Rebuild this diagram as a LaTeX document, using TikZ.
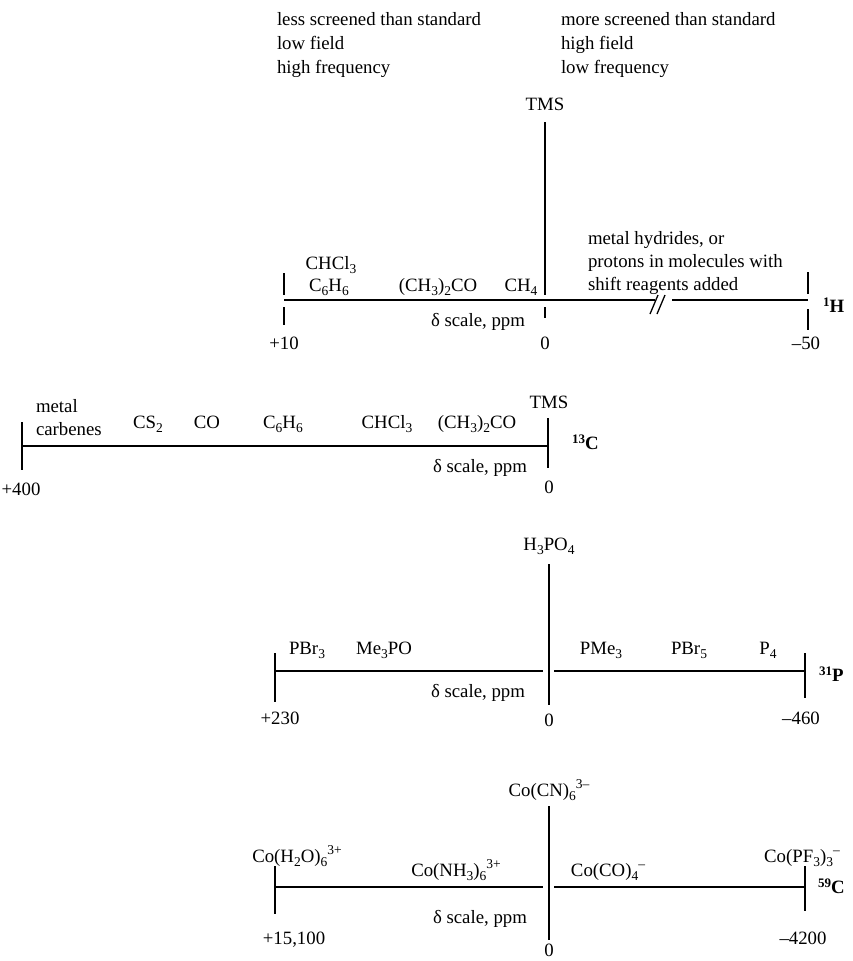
\documentclass[tikz,border=0pt]{standalone}
\usepackage{fontspec}
\setmainfont{Liberation Serif}
\newcommand\sbs[1]{\raisebox{-0.22em}{\fontsize{13.5}{13.5}\selectfont #1}}
\newcommand\sps[1]{\raisebox{0.42em}{\fontsize{13.5}{13.5}\selectfont #1}}
\newcommand\isosup[1]{\raisebox{0.3em}{\fontsize{13}{13}\selectfont\bfseries #1}}
\tikzset{
  lbl/.style={inner sep=0pt, outer sep=0pt, anchor=base, font=\fontsize{18.8}{24}\selectfont},
  lblw/.style={lbl, anchor=base west},
  iso/.style={lbl, anchor=base west, font=\fontsize{18.8}{24}\selectfont\bfseries},
  axisline/.style={line width=2.6pt},
  breakline/.style={line width=1.3pt},
}
\begin{document}
\begin{tikzpicture}[x=1pt,y=-1pt]
\useasboundingbox (0,0) rectangle (852,961);

% ---------- header ----------
\node[lblw] (ls1) at (277,25) {less screened than standard};
\node[lblw] (ls2) at (277,49) {low field};
\node[lblw] (ls3) at (277,73) {high frequency};
\node[lblw] (ms1) at (561,25) {more screened than standard};
\node[lblw] (ms2) at (561,49) {high field};
\node[lblw] (ms3) at (561,73) {low frequency};

% ---------- 1H ----------
\node[lbl] (hTMS) at (545,110) {TMS};
\node[lbl] (hCHCl3) at (331,269) {CHCl\sbs{3}};
\node[lbl] (hC6H6) at (329,291) {C\sbs{6}H\sbs{6}};
\node[lbl] (hAc) at (438,291) {(CH\sbs{3})\sbs{2}CO};
\node[lbl] (hCH4) at (521,291) {CH\sbs{4}};
\node[lblw] (hyd1) at (588,244) {metal hydrides, or};
\node[lblw] (hyd2) at (588,267) {protons in molecules with};
\node[lblw] (hyd3) at (588,290) {shift reagents added};
\node[lbl] (hdel) at (478,326) {δ scale, ppm};
\node[lbl] (hp10) at (284,349) {+10};
\node[lbl] (h0) at (545,349) {0};
\node[lbl] (hm50) at (806,349) {–50};
\node[iso] (hiso) at (823,312) {\isosup{1}H};

\coordinate (hA1) at (284,300); \coordinate (hA2) at (655,300);
\coordinate (hA3) at (672,300); \coordinate (hA4) at (808,300);
\draw[axisline] (hA1) -- (hA2);
\draw[axisline] (hA3) -- (hA4);
\coordinate (hS1a) at (650,314); \coordinate (hS1b) at (658,295);
\coordinate (hS2a) at (657,314); \coordinate (hS2b) at (665,295);
\draw[breakline] (hS1a) -- (hS1b);
\draw[breakline] (hS2a) -- (hS2b);
% ticks (interrupted at the axis)
\coordinate (hL1) at (284,273); \coordinate (hL2) at (284,295);
\coordinate (hL3) at (284,307); \coordinate (hL4) at (284,325);
\draw[axisline] (hL1) -- (hL2); \draw[axisline] (hL3) -- (hL4);
\coordinate (hT1) at (545,122); \coordinate (hT2) at (545,295);
\coordinate (hT3) at (545,307); \coordinate (hT4) at (545,318);
\draw[axisline] (hT1) -- (hT2); \draw[axisline] (hT3) -- (hT4);
\coordinate (hR1) at (808,272); \coordinate (hR2) at (808,294);
\coordinate (hR3) at (808,309); \coordinate (hR4) at (808,330);
\draw[axisline] (hR1) -- (hR2); \draw[axisline] (hR3) -- (hR4);

% ---------- 13C ----------
\node[lblw] (cmet1) at (36,412) {metal};
\node[lblw] (cmet2) at (36,435) {carbenes};
\node[lbl] (cCS2) at (148,428) {CS\sbs{2}};
\node[lbl] (cCO) at (207,428) {CO};
\node[lbl] (cC6H6) at (283,428) {C\sbs{6}H\sbs{6}};
\node[lbl] (cCHCl3) at (387,428) {CHCl\sbs{3}};
\node[lbl] (cAc) at (477,428) {(CH\sbs{3})\sbs{2}CO};
\node[lbl] (cTMS) at (549,408) {TMS};
\node[iso] (ciso) at (572,449) {\isosup{13}C};
\node[lbl] (cdel) at (480,472) {δ scale, ppm};
\node[lbl] (cp400) at (21,495) {+400};
\node[lbl] (c0) at (549,493) {0};

\coordinate (cA1) at (22,446); \coordinate (cA2) at (548,446);
\draw[axisline] (cA1) -- (cA2);
\coordinate (cL1) at (22,422); \coordinate (cL2) at (22,470);
\draw[axisline] (cL1) -- (cL2);
\coordinate (cR1) at (548,418); \coordinate (cR2) at (548,468);
\draw[axisline] (cR1) -- (cR2);

% ---------- 31P ----------
\node[lbl] (pH3PO4) at (549,550) {H\sbs{3}PO\sbs{4}};
\node[lbl] (pPBr3) at (307,654) {PBr\sbs{3}};
\node[lbl] (pMe3PO) at (384,654) {Me\sbs{3}PO};
\node[lbl] (pPMe3) at (601,654) {PMe\sbs{3}};
\node[lbl] (pPBr5) at (689,654) {PBr\sbs{5}};
\node[lbl] (pP4) at (768,654) {P\sbs{4}};
\node[lbl] (pdel) at (478,697) {δ scale, ppm};
\node[lbl] (pp230) at (280,724) {+230};
\node[lbl] (p0) at (549,726) {0};
\node[lbl] (pm460) at (801,724) {–460};
\node[iso] (piso) at (819,681) {\isosup{31}P};

\coordinate (pA1) at (275,671); \coordinate (pA2) at (543,671);
\coordinate (pA3) at (554,671); \coordinate (pA4) at (805,671);
\draw[axisline] (pA1) -- (pA2);
\draw[axisline] (pA3) -- (pA4);
\coordinate (pV1) at (549,564); \coordinate (pV2) at (549,705);
\draw[axisline] (pV1) -- (pV2);
\coordinate (pL1) at (275,653); \coordinate (pL2) at (275,702);
\draw[axisline] (pL1) -- (pL2);
\coordinate (pR1) at (805,653); \coordinate (pR2) at (805,698);
\draw[axisline] (pR1) -- (pR2);

% ---------- 59Co ----------
\node[lbl] (kCN) at (549,796) {Co(CN)\sbs{6}\sps{3–}};
\node[lbl] (kH2O) at (297,862) {Co(H\sbs{2}O)\sbs{6}\sps{3+}};
\node[lbl] (kNH3) at (456,876) {Co(NH\sbs{3})\sbs{6}\sps{3+}};
\node[lbl] (kCO4) at (608,876) {Co(CO)\sbs{4}\sps{–}};
\node[lbl] (kPF3) at (802,862) {Co(PF\sbs{3})\sbs{3}\sps{–}};
\node[lbl] (kdel) at (480,923) {δ scale, ppm};
\node[lbl] (kp) at (294,944) {+15,100};
\node[lbl] (k0) at (549,956) {0};
\node[lbl] (km) at (803,944) {–4200};
\node[iso] (kiso) at (818,893) {\isosup{59}C};

\coordinate (kA1) at (275,887); \coordinate (kA2) at (543,887);
\coordinate (kA3) at (554,887); \coordinate (kA4) at (805,887);
\draw[axisline] (kA1) -- (kA2);
\draw[axisline] (kA3) -- (kA4);
\coordinate (kV1) at (549,806); \coordinate (kV2) at (549,940);
\draw[axisline] (kV1) -- (kV2);
\coordinate (kL1) at (275,866); \coordinate (kL2) at (275,914);
\draw[axisline] (kL1) -- (kL2);
\coordinate (kR1) at (805,866); \coordinate (kR2) at (805,911);
\draw[axisline] (kR1) -- (kR2);
\end{tikzpicture}
\end{document}
